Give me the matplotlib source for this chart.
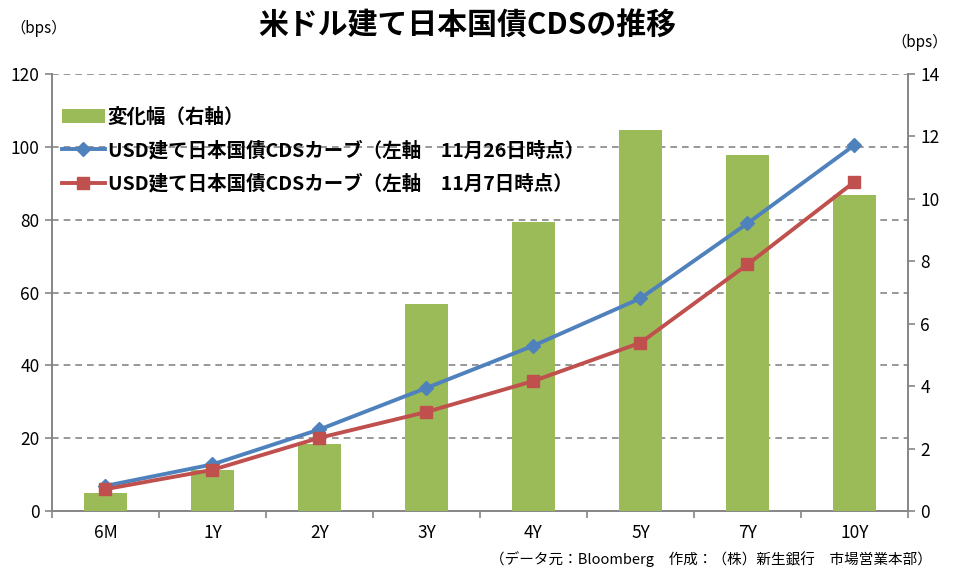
import matplotlib
matplotlib.use("Agg")
import matplotlib.pyplot as plt
from matplotlib.ticker import FixedLocator, MultipleLocator

plt.rcParams['font.family'] = ['Noto Sans CJK JP', 'DejaVu Sans']

categories = ["6M", "1Y", "2Y", "3Y", "4Y", "5Y", "7Y", "10Y"]
change_bps = [0.58, 1.31, 2.15, 6.63, 9.26, 12.19, 11.41, 10.11]
cds_nov26 = [6.9, 12.8, 22.4, 33.8, 45.4, 58.4, 79.0, 100.5]
cds_nov7 = [6.0, 11.3, 20.1, 27.2, 35.7, 46.2, 67.7, 90.4]

label_bar = "変化幅（右軸）"
label_26 = "USD建て日本国債CDSカーブ（左軸　11月26日時点）"
label_7 = "USD建て日本国債CDSカーブ（左軸　11月7日時点）"

green = "#9BBB59"
blue = "#4F81BD"
red = "#C0504D"
gray = "#868686"

fig = plt.figure(figsize=(9.56, 5.71), dpi=100)
W, H = 956, 571
L, R, T, B = 52, 908, 74, 511
ax = fig.add_axes([L / W, 1 - B / H, (R - L) / W, (B - T) / H])
x = list(range(len(categories)))

# base axis: left scale + grid
ax.set_ylim(0, 120)
ax.set_xlim(-0.5, len(categories) - 0.5)
ax.yaxis.set_major_locator(MultipleLocator(20))
ax.grid(axis='y', color=gray, linestyle=(0, (4, 3)), linewidth=1.2)
ax.set_axisbelow(True)
ax.set_xticks(x)
ax.set_xticklabels(categories)
ax.xaxis.set_minor_locator(FixedLocator([i - 0.5 for i in range(len(categories) + 1)]))
ax.tick_params(axis='x', which='major', length=0, pad=9, labelsize=12.5)
ax.tick_params(axis='x', which='minor', length=5, color=gray, width=1.2)
ax.tick_params(axis='y', length=5, color=gray, width=1.2, labelsize=12.5, pad=4)
for s in ['top', 'right']:
    ax.spines[s].set_visible(False)
for s in ['left', 'bottom']:
    ax.spines[s].set_color(gray)
    ax.spines[s].set_linewidth(1.4)

# bars on right axis
ax2 = ax.twinx()
bars = ax2.bar(x, change_bps, width=0.40, color=green, label=label_bar, zorder=2)
ax2.set_ylim(0, 14)
ax2.yaxis.set_major_locator(MultipleLocator(2))
ax2.tick_params(axis='y', length=5, color=gray, width=1.2, labelsize=12.5, pad=4)
for s in ['top', 'left', 'bottom']:
    ax2.spines[s].set_visible(False)
ax2.spines['right'].set_color(gray)
ax2.spines['right'].set_linewidth(1.4)
ax2.patch.set_visible(False)

# lines on top, left scale
ax3 = ax.twinx()
ax3.set_ylim(0, 120)
ax3.yaxis.set_visible(False)
for s in ax3.spines.values():
    s.set_visible(False)
ax3.patch.set_visible(False)
l1, = ax3.plot(x, cds_nov26, color=blue, linewidth=2.8, marker='D', markersize=7,
               label=label_26)
l2, = ax3.plot(x, cds_nov7, color=red, linewidth=2.8, marker='s', markersize=8.5,
               label=label_7)

leg = ax3.legend([bars, l1, l2], [label_bar, label_26, label_7], loc='upper left',
                 bbox_to_anchor=(-0.002, 0.95), frameon=False,
                 handlelength=2.2, handletextpad=0.15, labelspacing=0.72,
                 borderaxespad=0.2, prop={'weight': 'bold', 'size': 14})

fig.text(467 / W, 1 - 26 / H, "米ドル建て日本国債CDSの推移", ha='center', va='center',
         fontsize=21.5, fontweight='bold')
fig.text(10 / W, 1 - 28 / H, "（bps）", ha='left', va='center', fontsize=11)
fig.text(948 / W, 1 - 42 / H, "（bps）", ha='right', va='center', fontsize=11)
fig.text(932 / W, 1 - 559 / H, "（データ元：Bloomberg　作成：（株）新生銀行　市場営業本部）",
         ha='right', va='center', fontsize=10.5)

fig.savefig("out.png", dpi=100)
